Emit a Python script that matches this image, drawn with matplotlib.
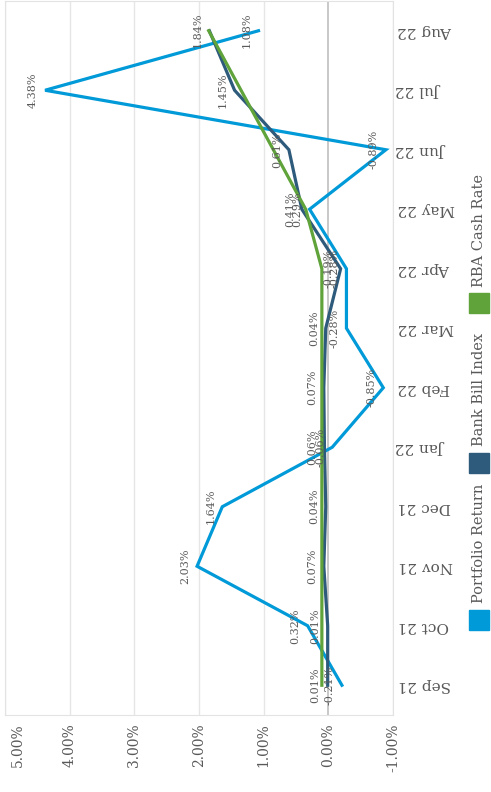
import matplotlib.pyplot as plt
from matplotlib.patches import Rectangle
from matplotlib.transforms import ScaledTranslation

# data
months = ["Sep 21", "Oct 21", "Nov 21", "Dec 21", "Jan 22", "Feb 22",
          "Mar 22", "Apr 22", "May 22", "Jun 22", "Jul 22", "Aug 22"]
portfolio = [-0.21, 0.32, 2.03, 1.64, -0.06, -0.85, -0.28, -0.28, 0.29, -0.89, 4.38, 1.08]
bank_bill = [0.01, 0.01, 0.07, 0.04, 0.06, 0.07, 0.04, -0.19, 0.41, 0.61, 1.45, 1.84]
rba_rate = [0.10, 0.10, 0.10, 0.10, 0.10, 0.10, 0.10, 0.10, 0.35, 0.85, 1.35, 1.85]
x_ticks = [5, 4, 3, 2, 1, 0, -1]

series = [("Portfolio Return", portfolio, "#009ad8", True),
          ("Bank Bill Index", bank_bill, "#2e5a7b", True),
          ("RBA Cash Rate", rba_rate, "#5fa33a", False)]

plt.rcParams["font.family"] = ["DejaVu Serif"]
txt = "#595959"

W, H = 491, 792
fig = plt.figure(figsize=(W / 100, H / 100), dpi=100)
# chart is drawn rotated: values run horizontally (5% left), months run upwards
ax = fig.add_axes([5 / W, 1 - 715 / H, 388 / W, 714 / H])

pos = list(range(len(months)))
for name, vals, col, labels in series:
    ax.plot(vals, pos, color=col, linewidth=2.3, solid_joinstyle="miter", zorder=3)
    if labels:
        for v, p in zip(vals, pos):
            ax.annotate(f"{v:.2f}%", (v, p), textcoords="offset points",
                        xytext=(-5, 0), rotation=90, ha="right", va="center",
                        fontsize=8, color=txt, zorder=5)

ax.set_xlim(5, -1)
ax.set_ylim(-0.5, len(months) - 0.5)

ax.set_xticks(x_ticks)
ax.set_xticklabels([f"{t:.2f}%" for t in x_ticks], rotation=90, fontsize=10,
                   color=txt, va="top", ha="center")
ax.tick_params(axis="x", length=0, pad=6)
# first label is pushed inside the figure, as in the original
first = ax.get_xticklabels()[0]
first.set_transform(first.get_transform() + ScaledTranslation(0.13, 0, fig.dpi_scale_trans))

ax.yaxis.tick_right()
ax.set_yticks(pos)
ax.set_yticklabels(months, rotation=180, fontsize=11, color=txt, ha="left", va="center")
ax.tick_params(axis="y", length=0, pad=3)

for t in x_ticks:
    if t == 0:
        ax.axvline(t, color="#c4c4c4", linewidth=1.3, zorder=1)
    else:
        ax.axvline(t, color="#e6e6e6", linewidth=1.0, zorder=1)

for s in ax.spines.values():
    s.set_color("#e3e3e3")
    s.set_linewidth(0.8)

# legend, drawn by hand so that it can be rotated like the rest
leg = [("Portfolio Return", "#009ad8", 610, 603),
       ("Bank Bill Index", "#2e5a7b", 453, 446),
       ("RBA Cash Rate", "#5fa33a", 293, 287)]
for name, col, sq_top, txt_start in leg:
    fig.patches.append(Rectangle((469 / W, 1 - (sq_top + 20) / H), 20 / W, 20 / H,
                                 transform=fig.transFigure, color=col))
    fig.text(479 / W, 1 - txt_start / H, name, rotation=90, ha="center", va="bottom",
             fontsize=10.5, color=txt)

fig.savefig("out.png", dpi=100)
